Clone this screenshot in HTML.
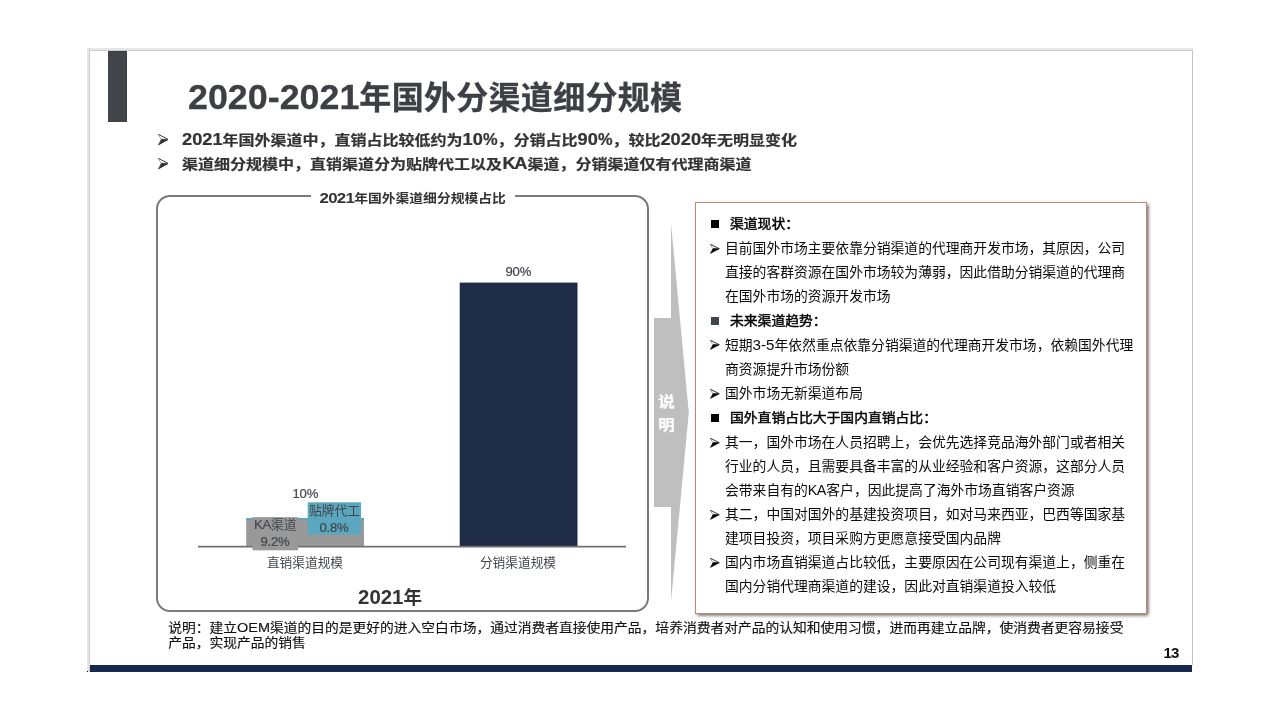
<!DOCTYPE html>
<html lang="zh-CN">
<head>
<meta charset="utf-8">
<title>2020-2021年国外分渠道细分规模</title>
<style>
*{margin:0;padding:0;box-sizing:border-box;}
html,body{width:1280px;height:720px;background:#fff;overflow:hidden;}
body{position:relative;font-family:"Liberation Sans","Noto Sans CJK SC",sans-serif;color:#3b3d42;}
.abs{position:absolute;white-space:nowrap;}
.l{font-size:1.1em;}
.la{font-size:1.04em;letter-spacing:-0.6px;margin-right:0.6px;}
.lb{font-size:1.1em;}
.lt{font-size:1.12em;letter-spacing:0;}
.lbu{font-size:1.14em;}
.lbp{display:inline-block;font-size:1.14em;line-height:1;transform:scaleX(0.9);transform-origin:0 50%;margin-right:-1.6px;}
.lba{font-size:1.14em;letter-spacing:-1.5px;margin-right:1.7px;margin-left:0.5px;}
.ln{font-size:1.05em;}
.lc{font-size:1.03em;letter-spacing:-0.15px;-webkit-text-stroke:0.22px #43474c;}
.slide-top{left:87px;top:48px;width:1106px;height:3px;background:linear-gradient(to bottom,#e6e6e6 0,#e6e6e6 2px,#cecece 2px,#cecece 3px);}
.slide-left{left:87px;top:48px;width:3px;height:623.5px;background:linear-gradient(to right,#e6e6e6 0,#e6e6e6 2px,#cecece 2px,#cecece 3px);}
.slide-right{left:1192px;top:51px;width:1px;height:614px;background:#c4c4c4;}
.slide-bottom{left:90px;top:665px;width:1102px;height:6.6px;background:#15294f;}
.dot{left:87px;top:670.6px;width:1.2px;height:1.2px;background:#000;}
.accent{left:108px;top:51px;width:18.5px;height:71px;background:#414449;border-top:1px solid #393c41;border-right:1px solid #393c41;}
.title{font-size:32px;line-height:44px;font-weight:bold;color:#3d3f44;letter-spacing:0.3px;-webkit-text-stroke:0.3px #3d3f44;}
.bul{font-size:16px;line-height:22px;font-weight:bold;color:#333;transform:scaleY(0.86);transform-origin:0 50%;-webkit-text-stroke:0.25px #333;}
.t{font-size:13.8px;line-height:24px;color:#0a0a0a;}
.tb{font-weight:400;color:#000;-webkit-text-stroke:0.45px #000;transform:scaleY(0.93);transform-origin:0 78%;}
.chartbox{left:156px;top:195.4px;width:492.8px;height:416.7px;border:2px solid #7a7a7a;border-radius:14px;}
.ctitle{font-size:13.8px;line-height:22px;font-weight:bold;color:#333;transform:scaleY(0.9);transform-origin:0 50%;}
.lct{font-size:1.22em;letter-spacing:-0.7px;}
.cmask{left:310.8px;top:190px;width:204.2px;height:14px;background:#fff;}
.note{font-size:13.78px;line-height:15px;color:#111;-webkit-text-stroke:0.15px #111;transform:scaleY(0.94);transform-origin:0 50%;}
.lbl{font-size:12.7px;line-height:16px;color:#43474c;text-align:center;}
.rbox{left:695px;top:202px;width:452px;height:412px;background:#fff;border:1.4px solid #c08870;box-shadow:1.8px 1.8px 3.5px rgba(0,0,0,.68);}
.sq{width:8px;height:8px;}
</style>
</head>
<body>
<div class="abs slide-top"></div>
<div class="abs slide-left"></div>
<div class="abs slide-right"></div>
<div class="abs slide-bottom"></div>
<div class="abs accent"></div>
<div class="abs dot"></div>

<div class="abs title" style="left:188px;top:75px;"><span class="lt">2020-2021</span>年国外分渠道细分规模</div>
<svg class="abs" style="left:157.6px;top:134px;" width="10.6" height="11.2" viewBox="0 0 10 10" preserveAspectRatio="none"><path d="M3.1,5 L0.4,0.5" fill="none" stroke="#2d2f33" stroke-opacity="0.55" stroke-width="0.7"/><path d="M0.2,0.2 L9.6,4.9" fill="none" stroke="#2d2f33" stroke-width="0.85"/><path d="M9.7,5 L0.4,9.8 L3.3,4.6 Z" fill="#2d2f33" stroke="#2d2f33" stroke-width="0.6" stroke-linejoin="miter"/></svg>
<div class="abs bul" style="left:182px;top:129px;"><span class="lbu">2021</span>年国外渠道中，直销占比较低约为<span class="lbu">10</span><span class="lbp">%</span>，分销占比<span class="lbu">90</span><span class="lbp">%</span>，较比<span class="lbu">2020</span>年无明显变化</div>
<svg class="abs" style="left:157.6px;top:158px;" width="10.6" height="11.2" viewBox="0 0 10 10" preserveAspectRatio="none"><path d="M3.1,5 L0.4,0.5" fill="none" stroke="#2d2f33" stroke-opacity="0.55" stroke-width="0.7"/><path d="M0.2,0.2 L9.6,4.9" fill="none" stroke="#2d2f33" stroke-width="0.85"/><path d="M9.7,5 L0.4,9.8 L3.3,4.6 Z" fill="#2d2f33" stroke="#2d2f33" stroke-width="0.6" stroke-linejoin="miter"/></svg>
<div class="abs bul" style="left:182px;top:153px;">渠道细分规模中，直销渠道分为贴牌代工以及<span class="lba">KA</span>渠道，分销渠道仅有代理商渠道</div>
<div class="abs chartbox"></div>
<div class="abs cmask"></div>
<div class="abs ctitle" style="left:319.5px;top:187.1px;"><span class="lct">2021</span>年国外渠道细分规模占比</div>
<svg class="abs" style="left:0;top:0;" width="1280" height="720" viewBox="0 0 1280 720">
  <rect x="459.7" y="282.6" width="117.8" height="264" fill="#1f2c47"/>
  <rect x="246.2" y="520" width="117.8" height="27" fill="#999999"/>
  <rect x="246.2" y="518" width="117.8" height="2" fill="#5aa7bf"/>
  <rect x="198" y="545.8" width="428" height="1.7" fill="#6e6e6e"/>
  <rect x="252.4" y="517.1" width="45.7" height="33.2" fill="#999999"/>
  <rect x="307.7" y="502.3" width="53.3" height="32.4" fill="#5aa7bf"/>
  <polygon points="654,318 671,318 671,223.5 688.8,412.5 671,601.5 671,507 654,507" fill="#bfbfbf"/>
</svg>
<div class="abs lbl" style="left:458.29999999999995px;top:263.7px;width:120px;"><span class="lc">90%</span></div>
<div class="abs lbl" style="left:245.3px;top:485.7px;width:120px;"><span class="lc">10%</span></div>
<div class="abs lbl" style="left:215.2px;top:516.7px;width:120px;"><span class="lc">KA</span>渠道</div>
<div class="abs lbl" style="left:215.0px;top:533.8px;width:120px;"><span class="lc">9.2%</span></div>
<div class="abs lbl" style="left:274.5px;top:503.3px;width:120px;">贴牌代工</div>
<div class="abs lbl" style="left:274.0px;top:519.6px;width:120px;"><span class="lc">0.8%</span></div>
<div class="abs lbl" style="left:245.0px;top:554.5px;width:120px;">直销渠道规模</div>
<div class="abs lbl" style="left:458.0px;top:554.5px;width:120px;">分销渠道规模</div>
<div class="abs" style="left:340px;top:584px;width:100px;text-align:center;font-size:18.5px;line-height:26px;font-weight:bold;color:#333;"><span class="lb">2021</span>年</div>
<div class="abs" style="left:656.5px;top:388.2px;width:20px;text-align:center;font-size:16.5px;line-height:24px;font-weight:bold;color:#fff;-webkit-text-stroke:0.25px #fff;white-space:normal;transform:scaleY(0.9);"><div style="height:24px;">说</div><div style="height:24px;position:relative;top:1.6px;">明</div></div>
<div class="abs note" style="left:168.2px;top:620px;">说明：建立<span class="ln">OEM</span>渠道的目的是更好的进入空白市场，通过消费者直接使用产品，培养消费者对产品的认知和使用习惯，进而再建立品牌，使消费者更容易接受</div>
<div class="abs note" style="left:168.2px;top:635px;">产品，实现产品的销售</div>
<div class="abs" style="left:1163.6px;top:644.6px;font-size:15px;line-height:16px;font-weight:bold;color:#111;letter-spacing:-1px;">13</div>
<div class="abs rbox"></div>
<div class="abs sq" style="left:710.7px;top:219.6px;background:#000;"></div>
<div class="abs t tb" style="left:730px;top:212px;">渠道现状：</div>
<svg class="abs" style="left:710px;top:244.3px;" width="9.6" height="9.6" viewBox="0 0 10 10" preserveAspectRatio="none"><path d="M3.1,5 L0.4,0.5" fill="none" stroke="#000" stroke-opacity="0.55" stroke-width="0.7"/><path d="M0.2,0.2 L9.6,4.9" fill="none" stroke="#000" stroke-width="0.85"/><path d="M9.7,5 L0.4,9.8 L3.3,4.6 Z" fill="#000" stroke="#000" stroke-width="0.6" stroke-linejoin="miter"/></svg>
<div class="abs t" style="left:725px;top:237px;">目前国外市场主要依靠分销渠道的代理商开发市场，其原因，公司</div>
<div class="abs t" style="left:725px;top:261px;">直接的客群资源在国外市场较为薄弱，因此借助分销渠道的代理商</div>
<div class="abs t" style="left:725px;top:285px;">在国外市场的资源开发市场</div>
<div class="abs sq" style="left:710.7px;top:316.6px;background:#41454d;"></div>
<div class="abs t tb" style="left:730px;top:309px;">未来渠道趋势：</div>
<svg class="abs" style="left:710px;top:340.3px;" width="9.6" height="9.6" viewBox="0 0 10 10" preserveAspectRatio="none"><path d="M3.1,5 L0.4,0.5" fill="none" stroke="#000" stroke-opacity="0.55" stroke-width="0.7"/><path d="M0.2,0.2 L9.6,4.9" fill="none" stroke="#000" stroke-width="0.85"/><path d="M9.7,5 L0.4,9.8 L3.3,4.6 Z" fill="#000" stroke="#000" stroke-width="0.6" stroke-linejoin="miter"/></svg>
<div class="abs t" style="left:725px;top:333px;">短期<span class="l">3-5</span>年依然重点依靠分销渠道的代理商开发市场，依赖国外代理</div>
<div class="abs t" style="left:725px;top:358px;">商资源提升市场份额</div>
<svg class="abs" style="left:710px;top:389.3px;" width="9.6" height="9.6" viewBox="0 0 10 10" preserveAspectRatio="none"><path d="M3.1,5 L0.4,0.5" fill="none" stroke="#000" stroke-opacity="0.55" stroke-width="0.7"/><path d="M0.2,0.2 L9.6,4.9" fill="none" stroke="#000" stroke-width="0.85"/><path d="M9.7,5 L0.4,9.8 L3.3,4.6 Z" fill="#000" stroke="#000" stroke-width="0.6" stroke-linejoin="miter"/></svg>
<div class="abs t" style="left:725px;top:382px;">国外市场无新渠道布局</div>
<div class="abs sq" style="left:710.7px;top:413.6px;background:#000;"></div>
<div class="abs t tb" style="left:730px;top:406px;">国外直销占比大于国内直销占比：</div>
<svg class="abs" style="left:710px;top:438.3px;" width="9.6" height="9.6" viewBox="0 0 10 10" preserveAspectRatio="none"><path d="M3.1,5 L0.4,0.5" fill="none" stroke="#000" stroke-opacity="0.55" stroke-width="0.7"/><path d="M0.2,0.2 L9.6,4.9" fill="none" stroke="#000" stroke-width="0.85"/><path d="M9.7,5 L0.4,9.8 L3.3,4.6 Z" fill="#000" stroke="#000" stroke-width="0.6" stroke-linejoin="miter"/></svg>
<div class="abs t" style="left:725px;top:431px;">其一，国外市场在人员招聘上，会优先选择竞品海外部门或者相关</div>
<div class="abs t" style="left:725px;top:455px;">行业的人员，且需要具备丰富的从业经验和客户资源，这部分人员</div>
<div class="abs t" style="left:725px;top:478px;">会带来自有的<span class="la">KA</span>客户，因此提高了海外市场直销客户资源</div>
<svg class="abs" style="left:710px;top:510.3px;" width="9.6" height="9.6" viewBox="0 0 10 10" preserveAspectRatio="none"><path d="M3.1,5 L0.4,0.5" fill="none" stroke="#000" stroke-opacity="0.55" stroke-width="0.7"/><path d="M0.2,0.2 L9.6,4.9" fill="none" stroke="#000" stroke-width="0.85"/><path d="M9.7,5 L0.4,9.8 L3.3,4.6 Z" fill="#000" stroke="#000" stroke-width="0.6" stroke-linejoin="miter"/></svg>
<div class="abs t" style="left:725px;top:503px;">其二，中国对国外的基建投资项目，如对马来西亚，巴西等国家基</div>
<div class="abs t" style="left:725px;top:527px;">建项目投资，项目采购方更愿意接受国内品牌</div>
<svg class="abs" style="left:710px;top:558.3px;" width="9.6" height="9.6" viewBox="0 0 10 10" preserveAspectRatio="none"><path d="M3.1,5 L0.4,0.5" fill="none" stroke="#000" stroke-opacity="0.55" stroke-width="0.7"/><path d="M0.2,0.2 L9.6,4.9" fill="none" stroke="#000" stroke-width="0.85"/><path d="M9.7,5 L0.4,9.8 L3.3,4.6 Z" fill="#000" stroke="#000" stroke-width="0.6" stroke-linejoin="miter"/></svg>
<div class="abs t" style="left:725px;top:551px;">国内市场直销渠道占比较低，主要原因在公司现有渠道上，侧重在</div>
<div class="abs t" style="left:725px;top:575px;">国内分销代理商渠道的建设，因此对直销渠道投入较低</div>
</body>
</html>
